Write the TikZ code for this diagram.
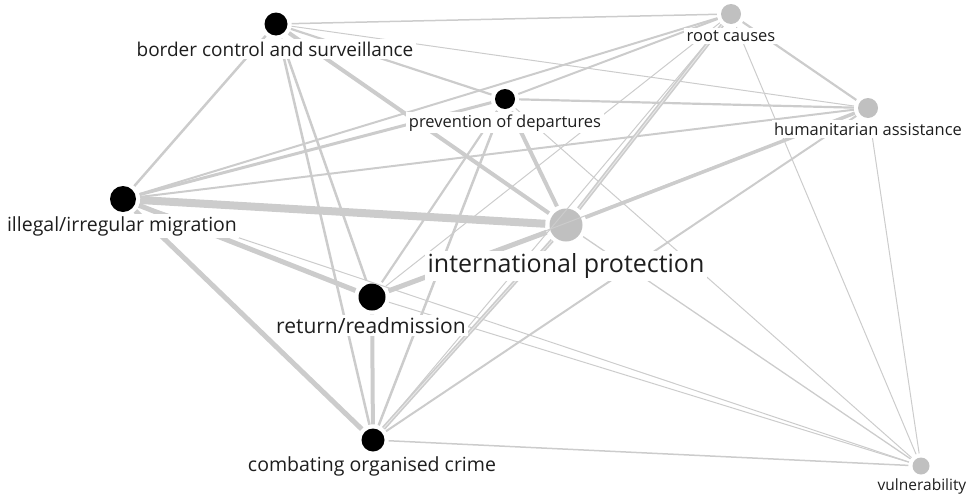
\documentclass[tikz,border=0pt]{standalone}
\usepackage{fontspec}
\setmainfont{Open Sans}
\usepackage{tikz}
\usetikzlibrary{positioning}
\definecolor{linkgray}{RGB}{204,204,204}
\definecolor{topicgray}{RGB}{192,192,192}
\definecolor{labelink}{RGB}{30,30,30}
\newcommand{\lsize}[1]{\fontsize{#1}{#1}\selectfont}
\tikzset{
  topic/.style={circle, fill=black, inner sep=0pt, minimum size=#1},
  gtopic/.style={circle, fill=topicgray, inner sep=0pt, minimum size=#1},
  lnk/.style={linkgray, line width=#1pt, shorten <=4pt, shorten >=4pt},
  twin/.style={linkgray, line width=1.6pt, double=linkgray!45, double distance=0.9pt,
               shorten <=4pt, shorten >=4pt},
  lab/.style={fill=white, inner sep=2.5pt, anchor=base, text=labelink},
}
\begin{document}
\begin{tikzpicture}[x=1pt, y=-1pt]
  \useasboundingbox (0,0) rectangle (970,498);
  % topics
  \node[topic=23pt]  (bc) at (276,24) {};
  \node[gtopic=20pt] (rc) at (731,14) {};
  \node[topic=20pt]  (pd) at (505,99) {};
  \node[gtopic=20pt] (ha) at (868,108) {};
  \node[topic=26pt]  (im) at (123,199) {};
  \node[gtopic=33pt] (ip) at (566,225) {};
  \node[topic=27pt]  (rr) at (372,297) {};
  \node[topic=23pt]  (oc) at (373,440) {};
  \node[gtopic=17pt] (vu) at (921,466) {};
  % links
  \foreach \a/\b/\w in {bc/rc/1.5, bc/ha/1.0, bc/pd/2.2, bc/ip/4.0, bc/im/2.5, bc/rr/2.5, bc/oc/2.5,
      rc/im/2.0, rc/pd/2.0, rc/ha/2.2, rc/vu/1.0, rc/rr/1.0, rc/oc/1.0,
      pd/ha/2.2, pd/im/3.0, pd/ip/4.0, pd/rr/2.2, pd/oc/2.5, pd/vu/1.0,
      ha/im/2.0, ha/ip/3.5, ha/oc/2.0, ha/vu/1.0, ha/rr/1.0,
      im/ip/8.0, im/rr/5.0, im/oc/5.0, im/vu/1.0,
      ip/rr/5.0, ip/vu/1.3, rr/oc/4.0, rr/vu/1.0, oc/vu/1.5}{
    \draw[lnk=\w] (\a) -- (\b);
  }
  \draw[twin] (rc) -- (ip);
  \draw[twin] (ip) -- (oc);
  % labels
  \node[lab, font=\lsize{19}]   (bc-t) at (275,56)  {border control and surveillance};
  \node[lab, font=\lsize{16.5}] (rc-t) at (731,41)  {root causes};
  \node[lab, font=\lsize{16.5}] (pd-t) at (505,127) {prevention of departures};
  \node[lab, font=\lsize{16.5}] (ha-t) at (868,135) {humanitarian assistance};
  \node[lab, font=\lsize{19.5}] (im-t) at (122,231) {illegal/irregular migration};
  \node[lab, font=\lsize{25}]   (ip-t) at (566,272) {international protection};
  \node[lab, font=\lsize{21}]   (rr-t) at (371,333) {return/readmission};
  \node[lab, font=\lsize{19.5}] (oc-t) at (372,471) {combating organised crime};
  \node[lab, font=\lsize{15.5}] (vu-t) at (922,490) {vulnerability};
\end{tikzpicture}
\end{document}
